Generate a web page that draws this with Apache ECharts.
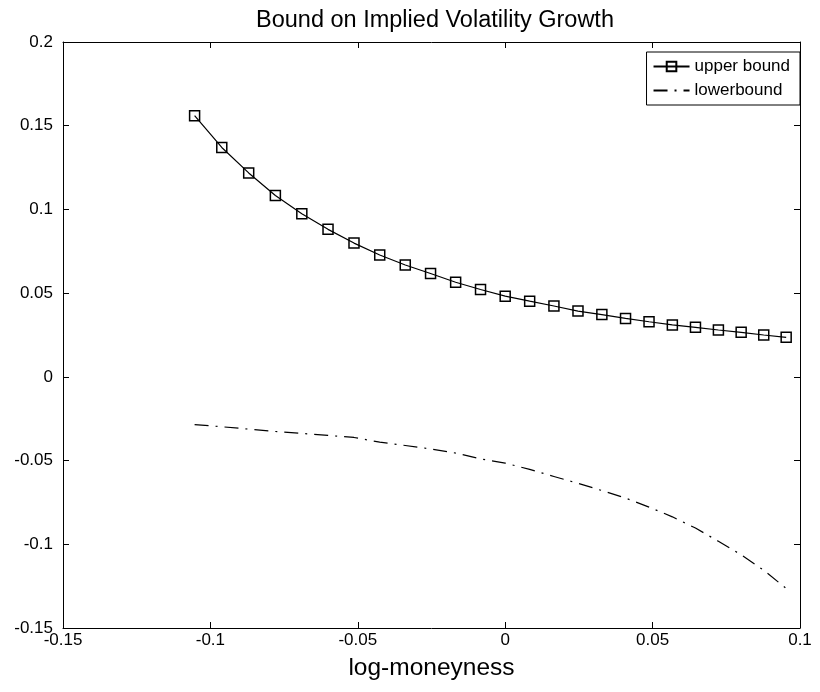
<!DOCTYPE html>
<html>
<head>
<meta charset="utf-8">
<script src="https://cdn.jsdelivr.net/npm/echarts@6/dist/echarts.min.js"></script>
<style>
html,body{margin:0;padding:0;background:#fff;}
#chart{width:820px;height:692px;}
</style>
</head>
<body>
<div id="chart"></div>
<script>
// log-moneyness sample points
var logMoneyness = [-0.10536, -0.09614, -0.08701, -0.07796, -0.06899, -0.06010, -0.05129, -0.04256, -0.03390, -0.02532, -0.01681, -0.00837, 0, 0.00830, 0.01653, 0.02469, 0.03279, 0.04082, 0.04879, 0.05670, 0.06454, 0.07232, 0.08004, 0.08770, 0.09531];
var upperBound = [0.156, 0.137, 0.1218, 0.1083, 0.0974, 0.0881, 0.0799, 0.0728, 0.0668, 0.0617, 0.0565, 0.0522, 0.0482, 0.0452, 0.0423, 0.0393, 0.0372, 0.0349, 0.0329, 0.0310, 0.0296, 0.0280, 0.0266, 0.0250, 0.0236];
var lowerBound = [-0.0285, -0.0298, -0.0312, -0.0326, -0.0338, -0.0350, -0.0362, -0.0390, -0.0410, -0.0430, -0.0455, -0.0490, -0.0515, -0.0553, -0.0595, -0.0636, -0.0679, -0.0724, -0.0778, -0.0836, -0.0903, -0.0982, -0.1063, -0.1155, -0.1264];
var seriesNames = ['upper bound', 'lowerbound'];
var titleText = 'Bound on Implied Volatility Growth';
var xLabel = 'log-moneyness';
var xTicks = [-0.15, -0.1, -0.05, 0, 0.05, 0.1];
var yTicks = [-0.15, -0.1, -0.05, 0, 0.05, 0.1, 0.15, 0.2];

function pairs(xs, ys) { return xs.map(function (x, i) { return [x, ys[i]]; }); }
function fmt(v) { return String(parseFloat(v.toFixed(4))); }

var FONT = '"Liberation Sans", Arial, sans-serif';
var baseAxis = function (ticks, extra) {
  var o = {
    type: 'value',
    min: ticks[0],
    max: ticks[ticks.length - 1],
    interval: 0.05,
    axisLine: { show: true, onZero: false, lineStyle: { color: '#000', width: 1 } },
    axisTick: { show: true, inside: true, length: 6, lineStyle: { color: '#000' } },
    splitLine: { show: false },
    axisLabel: { show: true, color: '#000', fontSize: 17, fontFamily: FONT, formatter: fmt, showMinLabel: true, showMaxLabel: true }
  };
  for (var k in extra) o[k] = extra[k];
  return o;
};

var chart = echarts.init(document.getElementById('chart'), null, { renderer: 'canvas' });
chart.setOption({
  animation: false,
  backgroundColor: '#fff',
  title: {
    text: titleText,
    left: 430,
    top: 4,
    textAlign: 'center',
    textStyle: { color: '#000', fontSize: 23.5, fontWeight: 'normal', fontFamily: FONT }
  },
  grid: { left: 63, right: 20, top: 42, bottom: 64, containLabel: false },
  legend: {
    data: seriesNames,
    orient: 'vertical',
    right: 20,
    top: 52,
    align: 'left',
    itemWidth: 36,
    itemHeight: 12,
    itemGap: 7,
    padding: [6, 10, 6, 6],
    borderColor: '#000',
    borderWidth: 1,
    backgroundColor: '#fff',
    textStyle: { color: '#000', fontSize: 17, fontFamily: FONT }
  },
  xAxis: [
    baseAxis(xTicks, {
      position: 'bottom',
      name: xLabel,
      nameLocation: 'middle',
      nameGap: 28,
      nameTextStyle: { color: '#000', fontSize: 24.5, fontFamily: FONT },
      axisLabel: { show: true, color: '#000', fontSize: 17, fontFamily: FONT, formatter: fmt, margin: 4, showMinLabel: true, showMaxLabel: true }
    }),
    baseAxis(xTicks, { position: 'top', axisLabel: { show: false } })
  ],
  yAxis: [
    baseAxis(yTicks, {
      position: 'left',
      axisLabel: { show: true, color: '#000', fontSize: 17, fontFamily: FONT, formatter: fmt, margin: 10, showMinLabel: true, showMaxLabel: true }
    }),
    baseAxis(yTicks, { position: 'right', axisLabel: { show: false } })
  ],
  series: [
    {
      name: seriesNames[0],
      type: 'line',
      data: pairs(logMoneyness, upperBound),
      symbol: 'rect',
      symbolSize: 10,
      showSymbol: true,
      lineStyle: { color: '#000', width: 1.2 },
      itemStyle: { color: 'rgba(255,255,255,0)', borderColor: '#000', borderWidth: 1.5 }
    },
    {
      name: seriesNames[1],
      type: 'line',
      data: pairs(logMoneyness, lowerBound),
      symbol: 'none',
      showSymbol: false,
      lineStyle: { color: '#000', width: 1.2, type: [14, 7, 2, 7] },
      itemStyle: { color: 'rgba(0,0,0,0)', borderWidth: 0, opacity: 0 }
    }
  ]
});
</script>
</body>
</html>
